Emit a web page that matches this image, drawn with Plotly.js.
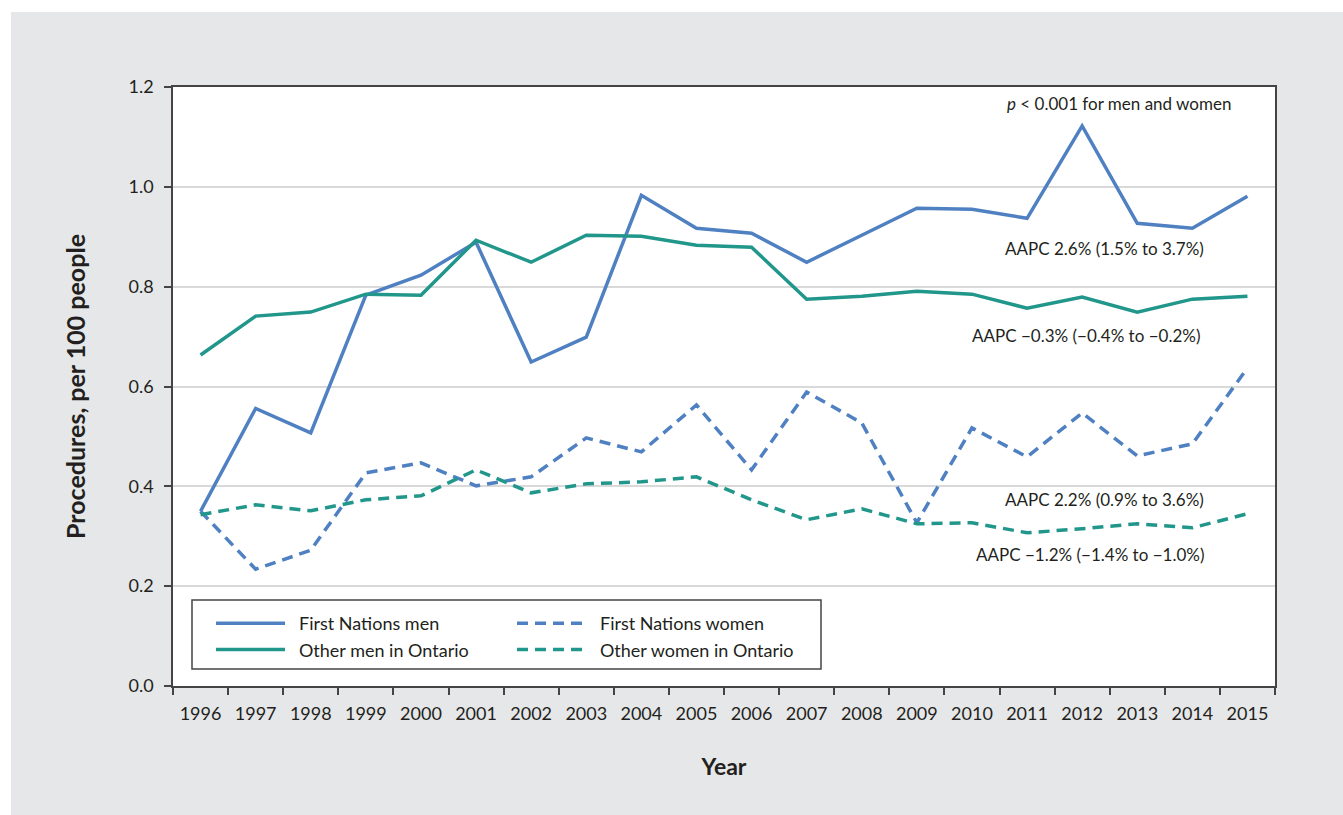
<!DOCTYPE html>
<html>
<head>
<meta charset="utf-8">
<script src="https://cdn.plot.ly/plotly-3.0.1.min.js"></script>
<style>
  html, body { margin: 0; padding: 0; background: #ffffff; }
  #chart { position: absolute; left: 11px; top: 12px; width: 1332px; height: 803px; }
</style>
</head>
<body>
<div id="chart"></div>
<script>
const years = ['1996','1997','1998','1999','2000','2001','2002','2003','2004','2005','2006','2007','2008','2009','2010','2011','2012','2013','2014','2015'];
const fnMen = [0.350,0.556,0.507,0.783,0.823,0.889,0.649,0.699,0.983,0.917,0.907,0.849,0.903,0.957,0.955,0.937,1.122,0.927,0.917,0.981];
const otherMen = [0.663,0.741,0.749,0.785,0.783,0.893,0.849,0.903,0.901,0.883,0.879,0.775,0.781,0.791,0.785,0.757,0.779,0.749,0.775,0.781];
const fnWomen = [0.350,0.234,0.272,0.427,0.447,0.401,0.419,0.497,0.469,0.563,0.433,0.589,0.527,0.327,0.517,0.459,0.547,0.461,0.485,0.637];
const otherWomen = [0.343,0.363,0.351,0.373,0.381,0.433,0.387,0.405,0.409,0.419,0.373,0.333,0.355,0.325,0.327,0.307,0.315,0.325,0.317,0.345];
const seriesNames = ['First Nations men','First Nations women','Other men in Ontario','Other women in Ontario'];
const yTicks = [0, 0.2, 0.4, 0.6, 0.8, 1.0, 1.2];
const notes = ['<i>p</i> &lt; 0.001 for men and women','AAPC 2.6% (1.5% to 3.7%)','AAPC −0.3% (−0.4% to −0.2%)','AAPC 2.2% (0.9% to 3.6%)','AAPC −1.2% (−1.4% to −1.0%)'];

const BLUE = '#4f81c2';
const TEAL = '#21968a';
const FONT = 'Lato, "Source Sans Pro", "Noto Sans", sans-serif';
const TXT = '#231f20';
const GAP = '\u2002';

function tr(y, name, color, dash, legend, group) {
  return {
    x: years, y: y, name: GAP + name, type: 'scatter', mode: 'lines',
    line: {color: color, width: 3.5, dash: dash},
    legend: legend, legendgroup: group,
    hovertemplate: name + ': %{y:.2f}<extra></extra>'
  };
}

const data = [
  tr(fnMen, seriesNames[0], BLUE, 'solid', 'legend', 'a'),
  tr(otherMen, seriesNames[2], TEAL, 'solid', 'legend', 'b'),
  tr(fnWomen, seriesNames[1], BLUE, '11px,7px', 'legend2', 'c'),
  tr(otherWomen, seriesNames[3], TEAL, '11px,7px', 'legend2', 'd')
];

function px2x(px) { return (px - 173) / 1102; }
function px2y(py) { return (686 - py) / 599; }

const annPos = [[1233,103],[1206,248],[1202,335],[1206,499],[1206,554]];
const annotations = notes.map((t, i) => ({
  text: t, xref: 'paper', yref: 'paper', x: px2x(annPos[i][0]), y: px2y(annPos[i][1]),
  xanchor: 'right', yanchor: 'middle', showarrow: false,
  font: {family: FONT, size: 17, color: TXT}
}));

const legendCommon = {
  orientation: 'v', bgcolor: 'rgba(0,0,0,0)', borderwidth: 0,
  font: {family: FONT, size: 18, color: TXT},
  xanchor: 'left', yanchor: 'top', itemwidth: 69, tracegroupgap: 6,
  traceorder: 'normal'
};

const layout = {
  width: 1332, height: 803,
  margin: {l: 162, r: 68, t: 75, b: 129},
  paper_bgcolor: '#e6e7e8',
  plot_bgcolor: '#ffffff',
  font: {family: FONT, color: TXT},
  showlegend: true,
  legend: Object.assign({}, legendCommon, {x: px2x(211), y: px2y(605)}),
  legend2: Object.assign({}, legendCommon, {x: px2x(512), y: px2y(605)}),
  xaxis: {
    type: 'category', range: [-0.5, 19.5],
    tickson: 'boundaries', ticks: 'outside', ticklen: 7, tickwidth: 1.5, tickcolor: '#444',
    showline: true, linecolor: '#444', linewidth: 1.5, mirror: true,
    showgrid: false, zeroline: false,
    tickfont: {family: FONT, size: 18, color: TXT},
    ticklabelstandoff: 11,
    title: {text: '<b>Year</b>', font: {family: FONT, size: 23, color: TXT}, standoff: 36}
  },
  yaxis: {
    range: [0, 1.2], tickvals: yTicks, tickformat: '.1f',
    ticks: 'outside', ticklen: 7, tickwidth: 1.5, tickcolor: '#444',
    showline: true, linecolor: '#444', linewidth: 1.5, mirror: true,
    showgrid: true, gridcolor: '#d9d9d9', gridwidth: 1.5, zeroline: false,
    tickfont: {family: FONT, size: 18, color: TXT},
    ticklabelstandoff: 7,
    title: {text: '<b>Procedures, per 100 people</b>', font: {family: FONT, size: 25, color: TXT}, standoff: 36}
  },
  shapes: [{
    type: 'rect', xref: 'paper', yref: 'paper',
    x0: px2x(192), x1: px2x(821), y0: px2y(669), y1: px2y(600),
    line: {color: '#444', width: 1.5}, fillcolor: 'rgba(0,0,0,0)', layer: 'above'
  }],
  annotations: annotations
};

Plotly.newPlot('chart', data, layout, {displayModeBar: false, responsive: false});
</script>
</body>
</html>
